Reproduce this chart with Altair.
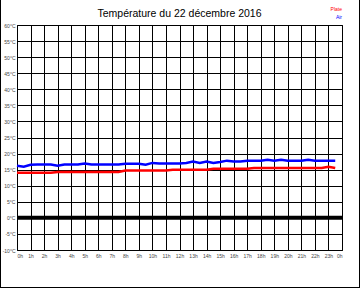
import altair as alt
import pandas as pd

# ---- data ----
hours = [0.0, 0.5, 1.0, 1.5, 2.0, 2.5, 3.0, 3.5, 4.0, 4.5, 5.0, 5.5,
         6.0, 6.5, 7.0, 7.5, 8.0, 8.5, 9.0, 9.5, 10.0, 10.5, 11.0, 11.5,
         12.0, 12.5, 13.0, 13.5, 14.0, 14.5, 15.0, 15.5, 16.0, 16.5, 17.0, 17.5,
         18.0, 18.5, 19.0, 19.5, 20.0, 20.5, 21.0, 21.5, 22.0, 22.5, 23.0, 23.5]
air = [16.2, 15.9, 16.5, 16.6, 16.6, 16.6, 16.2, 16.6, 16.6, 16.6, 16.9, 16.6,
       16.6, 16.6, 16.6, 16.6, 16.8, 16.8, 16.8, 16.5, 17.1, 16.9, 16.9, 16.9,
       16.9, 17.1, 17.5, 17.1, 17.5, 17.1, 17.4, 17.8, 17.5, 17.5, 17.8, 17.8,
       17.8, 18.1, 17.8, 18.1, 17.8, 17.8, 17.8, 18.1, 17.8, 17.8, 17.8, 17.8]
plate = [14.0, 14.0, 14.0, 14.0, 14.0, 14.0, 14.3, 14.3, 14.3, 14.3, 14.3, 14.3,
         14.3, 14.3, 14.3, 14.3, 14.7, 14.7, 14.7, 14.7, 14.7, 14.7, 14.7, 15.0,
         15.0, 15.0, 15.0, 15.0, 15.0, 15.3, 15.3, 15.3, 15.3, 15.3, 15.3, 15.5,
         15.5, 15.5, 15.5, 15.5, 15.5, 15.5, 15.5, 15.5, 15.5, 15.5, 15.9, 15.5]
series = ["Plate", "Air"]
series_colors = ["#ff0000", "#0000ff"]
x_ticks = list(range(0, 25))
y_ticks = list(range(-10, 65, 5))
title_text = "Température du 22 décembre 2016"

df = pd.DataFrame({
    "h": hours + hours,
    "temp": plate + air,
    "serie": ["Plate"] * len(plate) + ["Air"] * len(air),
})
zero_df = pd.DataFrame({"v": [0]})

FONT = "Liberation Sans"

xscale = alt.Scale(domain=[0, 24], nice=False, zero=False)
yscale = alt.Scale(domain=[-10, 60], nice=False, zero=False)

xaxis = alt.Axis(values=x_ticks, labelExpr="(datum.value % 24) + 'h'", title=None,
                 grid=True, gridColor="black", gridOpacity=1, gridWidth=1,
                 ticks=False, domain=False, labelFontSize=5, labelColor="#444",
                 labelFont=FONT, labelPadding=3, labelFlush=True, labelOverlap=False)
yaxis = alt.Axis(values=y_ticks, labelExpr="datum.value + '°C'", title=None,
                 grid=True, gridColor="black", gridOpacity=1, gridWidth=1,
                 ticks=False, domain=False, labelFontSize=5, labelColor="#444",
                 labelFont=FONT, labelPadding=2, labelOverlap=False)

lines = alt.Chart(df).mark_line(strokeWidth=2.5).encode(
    x=alt.X("h:Q", scale=xscale, axis=xaxis),
    y=alt.Y("temp:Q", scale=yscale, axis=yaxis),
    color=alt.Color("serie:N", scale=alt.Scale(domain=series, range=series_colors), legend=None),
    detail="serie:N",
)

zero = alt.Chart(zero_df).mark_rule(color="black", strokeWidth=4).encode(
    y=alt.Y("v:Q", scale=yscale, axis=yaxis),
)

title = alt.Chart(zero_df).mark_text(
    text=title_text, font=FONT, fontSize=10.5, color="black",
    align="center", baseline="alphabetic",
).encode(x=alt.value(162.5), y=alt.value(-8))

leg_plate = alt.Chart(zero_df).mark_text(
    text=series[0], font=FONT, fontSize=5, color=series_colors[0],
    align="right", baseline="middle",
).encode(x=alt.value(325), y=alt.value(-16.5))
leg_air = alt.Chart(zero_df).mark_text(
    text=series[1], font=FONT, fontSize=5, color=series_colors[1],
    align="right", baseline="middle",
).encode(x=alt.value(325), y=alt.value(-8.5))

border_l = alt.Chart(zero_df).mark_rule(color="black", strokeWidth=1).encode(
    x=alt.value(-16.5), y=alt.value(-25), y2=alt.value(263))
border_r = alt.Chart(zero_df).mark_rule(color="black", strokeWidth=1).encode(
    x=alt.value(342.5), y=alt.value(-25), y2=alt.value(263))
border_b = alt.Chart(zero_df).mark_rule(color="black", strokeWidth=1).encode(
    x=alt.value(-17), x2=alt.value(343), y=alt.value(262.5))

chart = alt.layer(
    lines, zero, title, leg_plate, leg_air, border_l, border_r, border_b
).resolve_axis(y="shared").properties(
    width=325, height=225,
    autosize=alt.AutoSizeParams(type="none"),
    padding={"left": 17, "top": 25, "right": 18, "bottom": 38},
    background="white",
).configure_view(stroke="black", strokeWidth=1)

chart.save("out.html", embed_options={"renderer": "svg", "actions": False})
